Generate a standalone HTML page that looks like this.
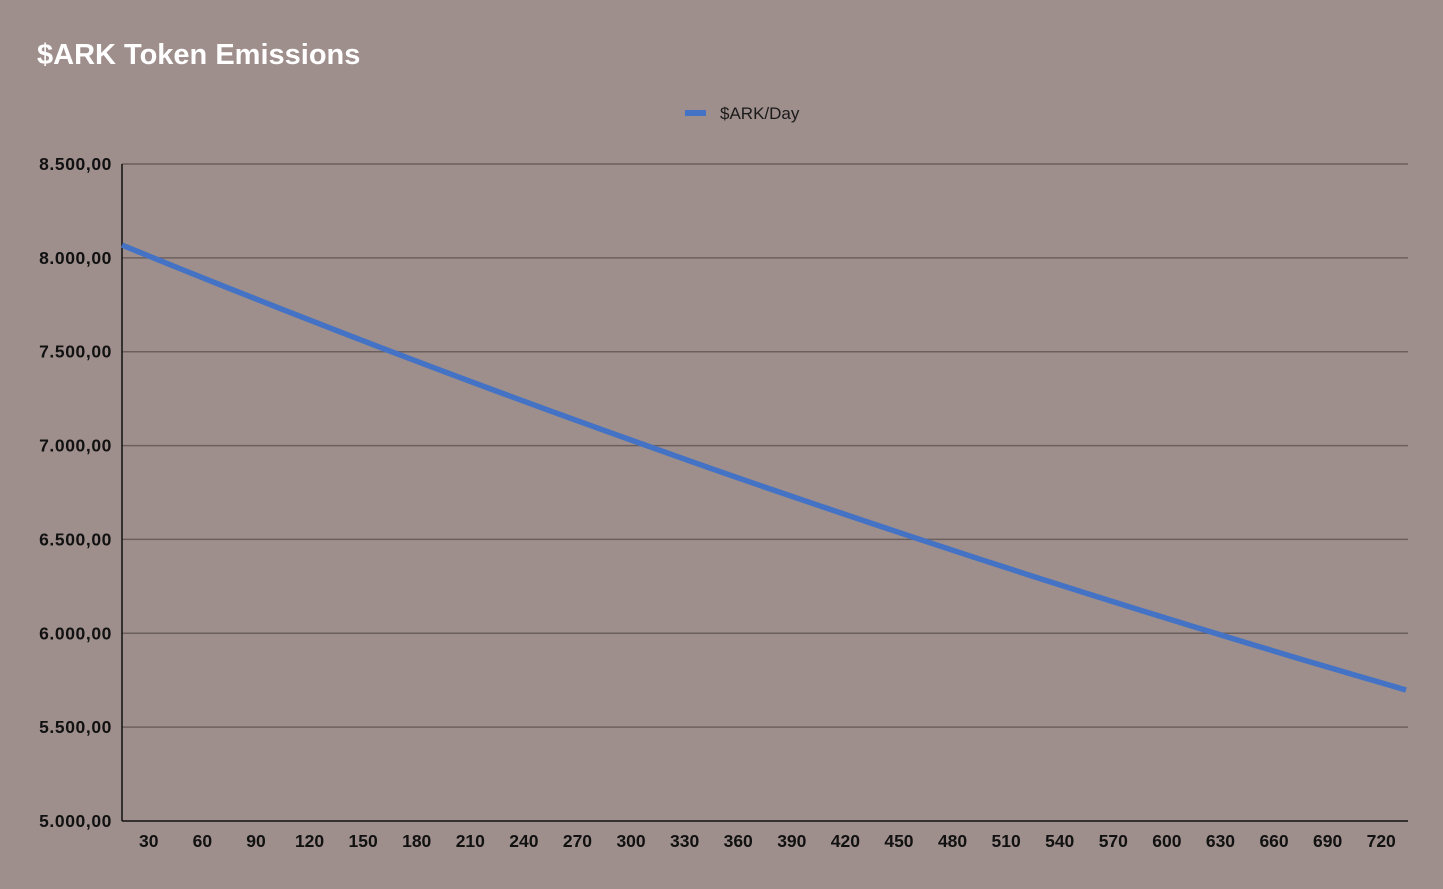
<!DOCTYPE html>
<html><head><meta charset="utf-8"><style>
body{margin:0;background:#9e8f8c;width:1443px;height:884px;overflow:hidden;font-family:"Liberation Sans",sans-serif}
</style></head><body>
<svg id="c" width="1443" height="884">
<text x="37" y="64" font-size="29" font-weight="bold" fill="#fff">$ARK Token Emissions</text>
<g>
<rect x="685" y="110" width="21" height="6" fill="#4472c4"/>
<text x="720" y="119" font-size="17" fill="#1a1a1a">$ARK/Day</text>
</g>
<g id="grid"></g><g id="ylab"></g><g id="xlab"></g>
<line x1="122" y1="164" x2="122" y2="821" stroke="#111" stroke-width="1.5"/>
<path id="ln" fill="none" stroke="#4472c4" stroke-width="5.5"/>
</svg>
<script>
const yTicks=[5000,5500,6000,6500,7000,7500,8000,8500];
const yTickLabels=["5.000,00","5.500,00","6.000,00","6.500,00","7.000,00","7.500,00","8.000,00","8.500,00"];
const categories=[30,60,90,120,150,180,210,240,270,300,330,360,390,420,450,480,510,540,570,600,630,660,690,720];
const days=[0,30,60,90,120,150,180,210,240,270,300,330,360,390,420,450,480,510,540,570,600,630,660,690,720];
const values=[8068,7952,7838,7725,7614,7504,7396,7290,7185,7082,6980,6879,6780,6683,6587,6492,6398,6306,6215,6126,6038,5951,5865,5781,5698];
const L=122,R=1408,T=164,B=821,NS="http://www.w3.org/2000/svg";
const y=v=>B-(v-5000)/3500*(B-T);
const xd=d=>L+d/720*(1406-L);
const band=(R-L)/categories.length;
const g=document.getElementById('grid'),yl=document.getElementById('ylab'),xl=document.getElementById('xlab');
yTicks.forEach((v,i)=>{
 if(i>0){const l=document.createElementNS(NS,'line');
 l.setAttribute('x1',L);l.setAttribute('x2',R);l.setAttribute('y1',y(v));l.setAttribute('y2',y(v));
 l.setAttribute('stroke','#6b5f5d');l.setAttribute('stroke-width','1.5');
 
 
 g.appendChild(l);}
 const t=document.createElementNS(NS,'text');
 t.setAttribute('x',112);t.setAttribute('y',y(v)+6);t.setAttribute('text-anchor','end');
 t.setAttribute('font-size','17.5');t.setAttribute('font-weight','bold');t.setAttribute('fill','#111');
 t.setAttribute('letter-spacing','0.6');
 t.textContent=yTickLabels[i];
 
 
 yl.appendChild(t);
});
const bl=document.createElementNS(NS,'line');
bl.setAttribute('x1',L);bl.setAttribute('x2',R);bl.setAttribute('y1',B);bl.setAttribute('y2',B);
bl.setAttribute('stroke','#111');bl.setAttribute('stroke-width','1.5');


g.appendChild(bl);
categories.forEach((c,i)=>{
 const t=document.createElementNS(NS,'text');
 t.setAttribute('x',L+band*(i+0.5));t.setAttribute('y',847);t.setAttribute('text-anchor','middle');
 t.setAttribute('font-size','17.5');t.setAttribute('font-weight','bold');t.setAttribute('fill','#111');
 t.textContent=c;
 
 
 xl.appendChild(t);
});
document.getElementById('ln').setAttribute('d',days.map((d,i)=>(i?'L':'M')+xd(d)+','+y(values[i])).join(' '));
</script>
</body></html>
